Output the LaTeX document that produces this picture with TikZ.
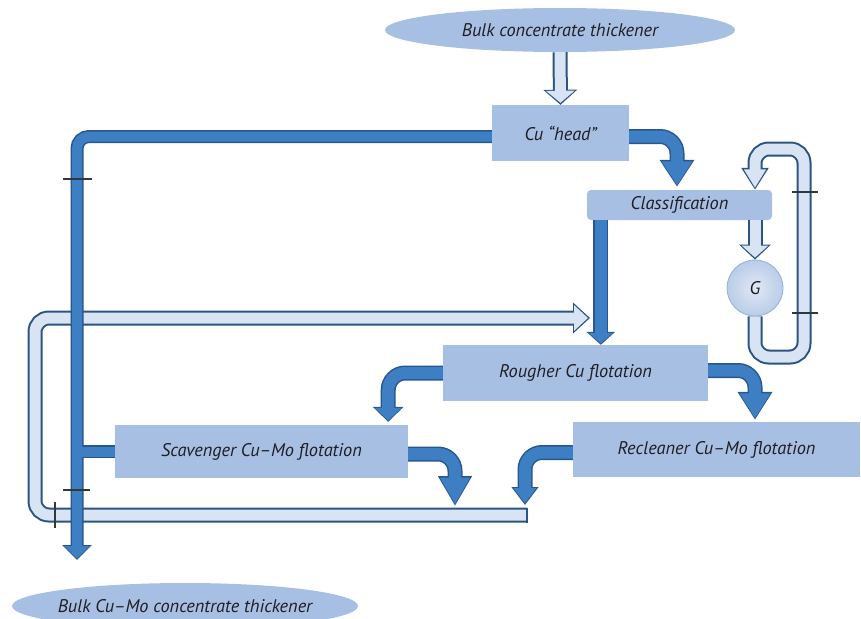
\documentclass[tikz,border=0pt]{standalone}
\usepackage{fontspec}
\setmainfont{PT Sans}
\usetikzlibrary{arrows.meta,shapes.geometric}

\definecolor{boxblue}{RGB}{168,191,228}
\definecolor{pipeblue}{RGB}{62,126,194}
\definecolor{pipeedge}{RGB}{40,86,142}
\definecolor{lightfill}{RGB}{216,227,243}
\definecolor{lightedge}{RGB}{44,84,128}
\definecolor{gblue}{RGB}{186,204,232}
\definecolor{gedge}{RGB}{150,176,214}
\definecolor{inkgray}{RGB}{30,30,35}
\definecolor{tickgray}{RGB}{50,55,60}

\tikzset{
  unit/.style={fill=boxblue, inner sep=0pt, text=inkgray, font=\itshape\fontsize{18.3}{20}\selectfont},
  tank/.style={unit, ellipse, inner xsep=-12pt},
  darkline/.style={draw=pipeblue, line width=10pt, preaction={draw=pipeedge, line width=13pt}},
  mainpipe/.style 2 args={draw=pipeblue, line width=10pt, rounded corners=12pt, shorten >=1.5pt, -{Triangle[#2]},
    preaction={draw=pipeedge, line width=13pt, shorten >=0pt, -{Triangle[#1]}}},
  darkflow/.style 2 args={draw=pipeblue, line width=12pt, rounded corners=17pt, shorten >=1.5pt, -{Triangle[#2]},
    preaction={draw=pipeedge, line width=15pt, shorten >=0pt, -{Triangle[#1]}}},
  lightflow/.style 2 args={draw=lightfill, line width=11pt, rounded corners=14pt, shorten >=2pt, -{Triangle[#2]},
    preaction={draw=lightedge, line width=15pt, shorten >=0pt, -{Triangle[#1]}}},
  tick/.style={draw=tickgray, line width=1.2pt},
}

\begin{document}
\begin{tikzpicture}[x=1pt,y=-1pt]
\useasboundingbox (0,0) rectangle (861,618);
\clip (0,0) rectangle (861,618);

\node[tank, minimum width=350pt, minimum height=44pt] (bulk) at (560,30) {Bulk concentrate thickener};
\node[unit, minimum width=137pt, minimum height=56pt] (cuhead) at (560.5,133) {Cu “head”};
\node[unit, rounded corners=4pt, minimum width=185pt, minimum height=30pt] (class) at (679.5,205) {Classification};
\node[circle, draw=gedge, line width=0.8pt, inner color=gblue!45!white, outer color=gblue, minimum size=56pt,
  text=inkgray, font=\itshape\fontsize{18.3}{20}\selectfont] (G) at (755,288) {G};
\node[unit, minimum width=265pt, minimum height=56pt] (rough) at (575.5,373) {Rougher Cu flotation};
\node[unit, minimum width=293pt, minimum height=53pt] (scav) at (261.5,451.5) {Scavenger Cu–Mo flotation};
\node[unit, minimum width=287pt, minimum height=55pt] (recl) at (716.5,449.5) {Recleaner Cu–Mo flotation};
\node[tank, minimum width=346pt, minimum height=46pt] (bulkcm) at (185,606) {Bulk Cu–Mo concentrate thickener};

\coordinate (cmin) at (77,560);
\coordinate (retend) at (527,515);
\coordinate (retbend) at (35,318);
\coordinate (retin) at (590,318);
\coordinate (scavout) at (455,506);
\coordinate (reclout) at (525,505);
\coordinate (loopbr) at (804,357);
\coordinate (looptl) at (755,149);
\coordinate (clsout) at ([xshift=14pt]class.south west);

\draw[lightflow={width=30pt,length=17pt}{width=25pt,length=14pt}] (retend) -| (retbend) -- (retin);
\draw[lightedge, line width=1.5pt] ([yshift=7.5pt]retend) -- ([yshift=-7.5pt]retend);
\draw[lightflow={width=33pt,length=15pt}{width=28pt,length=12pt}] (bulk.south) -- (cuhead.north);
\draw[lightflow={width=31pt,length=15pt}{width=26pt,length=12pt}] (G |- class.south) -- (G.north);
\draw[lightflow={width=26pt,length=22pt}{width=21pt,length=18.5pt}] (G.south) |- (loopbr) |- (looptl) -- (G |- class.north);

\draw[darkline] (cmin |- scav.west) -- (scav.west);
\draw[mainpipe={width=29pt,length=15pt}{width=25pt,length=12.5pt}] ([yshift=-3.5pt]cuhead.west) -| (cmin);
\draw[pipeblue, line width=10pt] (cmin |- scav.west) -- (scav.west);

\draw[darkflow={width=33pt,length=27pt}{width=29pt,length=24pt}] ([yshift=-3.5pt]cuhead.east) -| ([xshift=-2.5pt,yshift=3pt]class.north);
\draw[darkflow={width=28pt,length=13pt}{width=24pt,length=10.5pt}] (clsout) -- (clsout |- rough.north);
\draw[darkflow={width=30pt,length=15pt}{width=26pt,length=12.5pt}] (rough.west) -| ([xshift=-20pt,yshift=3pt]scav.north east);
\draw[darkflow={width=33pt,length=28pt}{width=29pt,length=25pt}] ([yshift=2.5pt]rough.east) -| ([xshift=38.5pt,yshift=2pt]recl.north);
\draw[darkflow={width=32pt,length=30pt}{width=28pt,length=27pt}] ([yshift=-2.5pt]scav.east) -| (scavout);
\draw[darkflow={width=26pt,length=18pt}{width=22pt,length=15.5pt}] ([yshift=-3pt]recl.west) -| (reclout);

\draw[tick] (63,179) -- (92,179);
\draw[tick] (63,490) -- (90,490);
\draw[tick] (55,502) -- (55,528);
\draw[tick] (792,192) -- (818,192);
\draw[tick] (792,313) -- (818,313);
\end{tikzpicture}
\end{document}
